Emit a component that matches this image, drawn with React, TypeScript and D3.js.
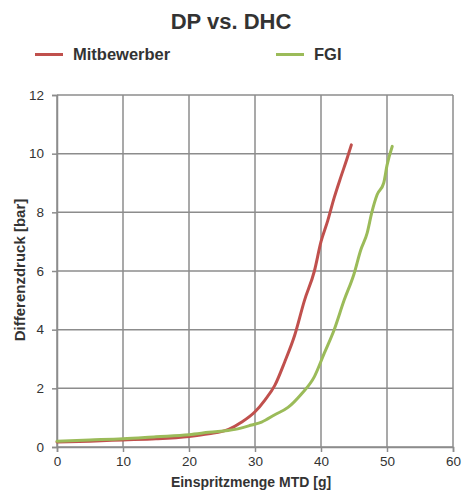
import { useEffect, useRef } from 'react'
import * as d3 from 'd3'

const WIDTH = 462
const HEIGHT = 490
const MARGIN = { top: 95, right: 9, bottom: 43, left: 57 }
const FONT = '"Liberation Sans", Arial, sans-serif'
const GRID = '#8c8c8c'
const TEXT = '#333333'

const TITLE = 'DP vs. DHC'
const X_LABEL = 'Einspritzmenge MTD [g]'
const Y_LABEL = 'Differenzdruck [bar]'
const X_TICKS = [0, 10, 20, 30, 40, 50, 60]
const Y_TICKS = [0, 2, 4, 6, 8, 10, 12]

const SERIES_NAMES = ['Mitbewerber', 'FGI']
const SERIES_COLORS = ['#c0504d', '#9bbb59']

// Mitbewerber
const redX = [0, 5, 10, 15, 20, 23, 26, 28, 30, 31.5, 33, 34.5, 36, 37.5, 39, 40, 41, 42, 43, 43.9, 44.6]
const redY = [0.17, 0.2, 0.24, 0.28, 0.36, 0.45, 0.6, 0.85, 1.2, 1.6, 2.1, 2.9, 3.8, 5.0, 6.0, 7.0, 7.7, 8.5, 9.2, 9.8, 10.3]

// FGI
const greenX = [0, 5, 10, 15, 20, 23, 27, 29.5, 31, 33, 35, 37, 39, 40.5, 42, 43.5, 45, 46, 47, 47.7, 48.5, 49.5, 50, 50.8]
const greenY = [0.2, 0.24, 0.28, 0.35, 0.42, 0.5, 0.6, 0.75, 0.85, 1.1, 1.35, 1.8, 2.4, 3.2, 4.0, 5.0, 5.9, 6.7, 7.3, 8.0, 8.6, 9.0, 9.6, 10.25]

const SERIES: [number, number][][] = [
  redX.map((x, i) => [x, redY[i]]),
  greenX.map((x, i) => [x, greenY[i]]),
]

export default function App() {
  const svgRef = useRef<SVGSVGElement>(null)

  useEffect(() => {
    const svg = d3.select(svgRef.current!)
    svg.selectAll('*').remove()

    const innerWidth = WIDTH - MARGIN.left - MARGIN.right
    const innerHeight = HEIGHT - MARGIN.top - MARGIN.bottom

    const x = d3.scaleLinear([0, 60], [0, innerWidth])
    const y = d3.scaleLinear([0, 12], [innerHeight, 0])

    svg.append('rect').attr('width', WIDTH).attr('height', HEIGHT).attr('fill', '#fff')

    // Title
    svg.append('text')
      .attr('x', 231).attr('y', 29)
      .attr('text-anchor', 'middle').attr('font-size', 22).attr('font-weight', 'bold')
      .attr('fill', TEXT).attr('font-family', FONT)
      .text(TITLE)

    // Legend
    const legendX = [35, 276]
    SERIES_NAMES.forEach((name, i) => {
      svg.append('line')
        .attr('x1', legendX[i]).attr('x2', legendX[i] + 28)
        .attr('y1', 54.5).attr('y2', 54.5)
        .attr('stroke', SERIES_COLORS[i]).attr('stroke-width', 3)
      svg.append('text')
        .attr('x', legendX[i] + 38).attr('y', 60)
        .attr('font-size', 16.5).attr('font-weight', 'bold')
        .attr('fill', TEXT).attr('font-family', FONT)
        .text(name)
    })

    const g = svg.append('g').attr('transform', `translate(${MARGIN.left},${MARGIN.top})`)

    // Grid
    g.append('g')
      .selectAll('line')
      .data(X_TICKS)
      .join('line')
      .attr('x1', d => x(d)).attr('x2', d => x(d))
      .attr('y1', 0).attr('y2', innerHeight)
      .attr('stroke', GRID).attr('stroke-width', 1.5)

    g.append('g')
      .selectAll('line')
      .data(Y_TICKS)
      .join('line')
      .attr('x1', 0).attr('x2', innerWidth)
      .attr('y1', d => y(d)).attr('y2', d => y(d))
      .attr('stroke', GRID).attr('stroke-width', 1.5)

    // Axes
    g.append('g')
      .attr('transform', `translate(0,${innerHeight})`)
      .call(d3.axisBottom(x).tickValues(X_TICKS).tickSize(5).tickPadding(4))
      .call(ag => ag.select('.domain').attr('stroke', GRID).attr('stroke-width', 1.5))
      .call(ag => ag.selectAll('.tick line').attr('stroke', GRID).attr('stroke-width', 1.5))
      .call(ag => ag.selectAll('text')
        .attr('fill', TEXT).attr('font-size', 13.5).attr('font-family', FONT))

    g.append('g')
      .call(d3.axisLeft(y).tickValues(Y_TICKS).tickSize(5).tickPadding(8))
      .call(ag => ag.select('.domain').attr('stroke', GRID).attr('stroke-width', 1.5))
      .call(ag => ag.selectAll('.tick line').attr('stroke', GRID).attr('stroke-width', 1.5))
      .call(ag => ag.selectAll('text')
        .attr('fill', TEXT).attr('font-size', 13.5).attr('font-family', FONT))

    // Axis labels
    g.append('text')
      .attr('x', innerWidth / 2 - 4).attr('y', innerHeight + 40)
      .attr('text-anchor', 'middle').attr('font-size', 14).attr('font-weight', 'bold')
      .attr('fill', TEXT).attr('font-family', FONT)
      .text(X_LABEL)

    g.append('text')
      .attr('transform', 'rotate(-90)')
      .attr('x', -(innerHeight / 2) + 1).attr('y', -32)
      .attr('text-anchor', 'middle').attr('font-size', 15).attr('font-weight', 'bold')
      .attr('fill', TEXT).attr('font-family', FONT)
      .text(Y_LABEL)

    // Series lines
    const line = d3.line<[number, number]>()
      .x(d => x(d[0]))
      .y(d => y(d[1]))
      .curve(d3.curveMonotoneX)

    SERIES.forEach((data, i) => {
      g.append('path')
        .datum(data)
        .attr('d', line)
        .attr('fill', 'none')
        .attr('stroke', SERIES_COLORS[i])
        .attr('stroke-width', 3)
        .attr('stroke-linejoin', 'round')
        .attr('stroke-linecap', 'round')
    })
  }, [])

  return (
    <svg
      ref={svgRef}
      width={WIDTH}
      height={HEIGHT}
      style={{ position: 'absolute', left: 0, top: 0 }}
    />
  )
}
